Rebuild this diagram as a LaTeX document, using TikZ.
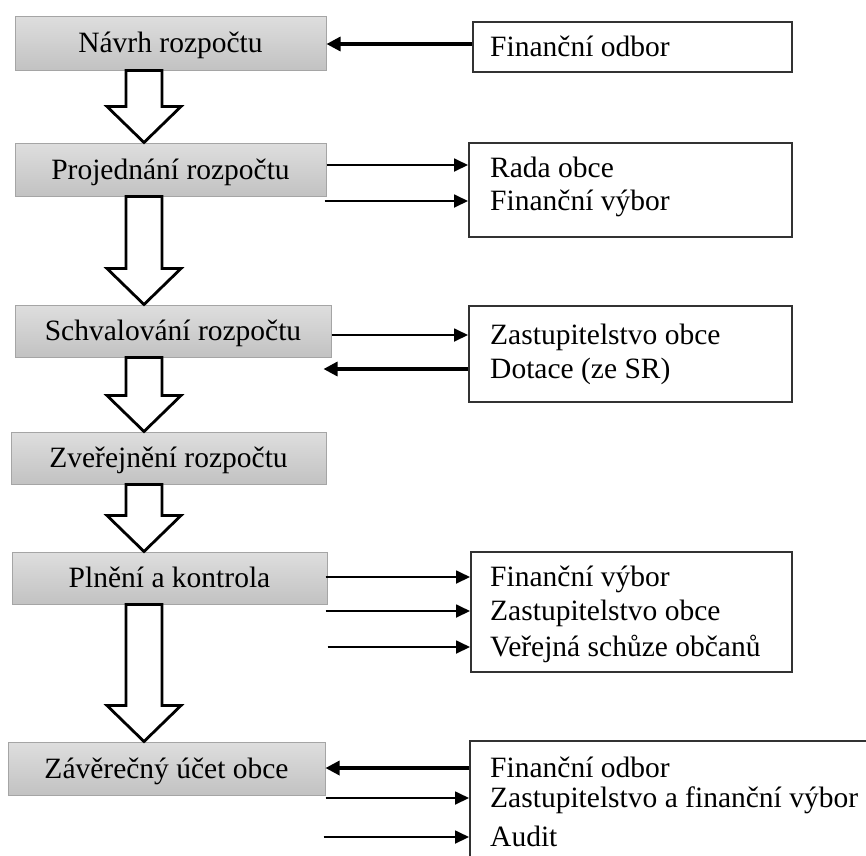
\documentclass[tikz,border=0pt]{standalone}
\usepackage{fontspec}
\setmainfont{Liberation Serif}
\usetikzlibrary{arrows.meta,calc}
\tikzset{
  gbox/.style={draw={rgb,255:red,165;green,165;blue,165}, line width=1pt,
    top color={rgb,255:red,222;green,222;blue,222},
    bottom color={rgb,255:red,194;green,194;blue,194},
    inner sep=0pt, font=\fontsize{29.5}{35}\selectfont, text height=22pt, text depth=3pt},
  rbox/.style={draw={rgb,255:red,50;green,50;blue,50}, line width=2pt, fill=white, inner sep=0pt},
  txt/.style={anchor=west, inner sep=0pt, font=\fontsize{29.5}{35}\selectfont, text height=22pt, text depth=3pt},
  thinarr/.style={line width=1.8pt, -{Triangle[length=14pt,width=13pt]}},
  thickarr/.style={line width=3.2pt, -{Triangle[length=14pt,width=14pt]}},
  blk/.style={draw=black, line width=2.8pt, fill=white, line join=miter},
}
\newcommand{\blockarr}[2]{%
  \draw[blk] ($(ax|-#1.south)+(-18,0)$) -- ($(ax|-#2.north)+(-18,-36)$) -- ($(ax|-#2.north)+(-37,-36)$) -- (ax|-#2.north) -- ($(ax|-#2.north)+(37,-36)$) -- ($(ax|-#2.north)+(18,-36)$) -- ($(ax|-#1.south)+(18,0)$) -- cycle;}
\begin{document}
\begin{tikzpicture}[x=1pt,y=-1pt]
\clip (0,0) rectangle (866,855);
\fill[white] (0,0) rectangle (866,855);
\coordinate (ax) at (144,0);
% gray boxes
\node[gbox, minimum width=311pt, minimum height=54pt] (g1) at (170.5,43) {Návrh rozpočtu};
\node[gbox, minimum width=311pt, minimum height=53pt] (g2) at (170.5,169.5) {Projednání rozpočtu};
\node[gbox, minimum width=316pt, minimum height=52pt] (g3) at (173,331) {Schvalování rozpočtu};
\node[gbox, minimum width=315pt, minimum height=52pt] (g4) at (168.5,458) {Zveřejnění rozpočtu};
\node[gbox, minimum width=315pt, minimum height=52pt] (g5) at (169.5,578) {Plnění a kontrola};
\node[gbox, minimum width=317pt, minimum height=53pt] (g6) at (166.5,768.5) {Závěrečný účet obce};
% block arrows
\blockarr{g1}{g2}
\blockarr{g2}{g3}
\blockarr{g3}{g4}
\blockarr{g4}{g5}
\blockarr{g5}{g6}
% right boxes
\node[rbox, minimum width=319pt, minimum height=50pt] (r1) at (632.5,47) {};
\node[rbox, minimum width=323pt, minimum height=94pt] (r2) at (630.5,190) {};
\node[rbox, minimum width=323pt, minimum height=96pt] (r3) at (630.5,354) {};
\node[rbox, minimum width=321pt, minimum height=120pt] (r4) at (631.5,612) {};
\node[rbox, minimum width=430pt, minimum height=159pt] (r5) at (685,820.5) {};
% texts
\node[txt] (t11) at (490,47) {Finanční odbor};
\node[txt] (t21) at (490,168) {Rada obce};
\node[txt] (t22) at (490,201) {Finanční výbor};
\node[txt] (t31) at (490,335) {Zastupitelstvo obce};
\node[txt] (t32) at (490,369) {Dotace (ze SR)};
\node[txt] (t41) at (490,577) {Finanční výbor};
\node[txt] (t42) at (490,611) {Zastupitelstvo obce};
\node[txt] (t43) at (490,647) {Veřejná schůze občanů};
\node[txt] (t51) at (490,768) {Finanční odbor};
\node[txt] (t52) at (490,798) {Zastupitelstvo a finanční výbor};
\node[txt] (t53) at (490,837) {Audit};
% connectors
\draw[thickarr] ($(r1.west)+(0,-3)$) -- ($(g1.east|-r1.west)+(0,-3)$);
\draw[thinarr] ($(g2.east|-t21)+(0,-3)$) -- ($(r2.west|-t21)+(0,-3)$);
\draw[thinarr] ($(g2.east|-t22)+(-2,0)$) -- (r2.west|-t22);
\draw[thinarr] (g3.east|-t31) -- (r3.west|-t31);
\draw[thickarr] (r3.west|-t32) -- ($(g3.east|-t32)+(-8,0)$);
\draw[thinarr] ($(g5.east|-t41)+(-2,0)$) -- (r4.west|-t41);
\draw[thinarr] ($(g5.east|-t42)+(-2,0)$) -- (r4.west|-t42);
\draw[thinarr] (g5.east|-t43) -- (r4.west|-t43);
\draw[thickarr] (r5.west|-t51) -- (g6.east|-t51);
\draw[thinarr] (g6.east|-t52) -- (r5.west|-t52);
\draw[thinarr] ($(g6.east|-t53)+(-2,0)$) -- (r5.west|-t53);
\end{tikzpicture}
\end{document}
